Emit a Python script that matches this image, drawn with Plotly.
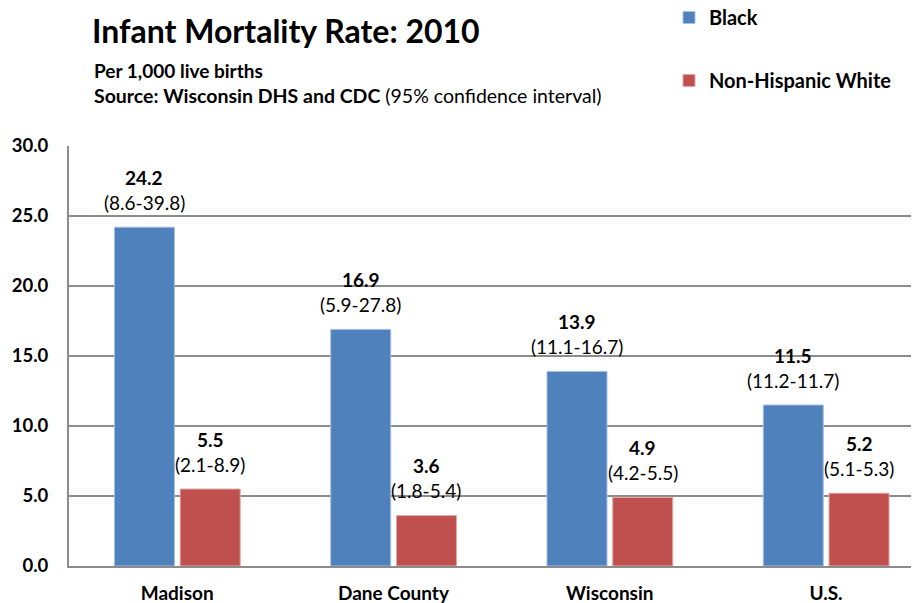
import plotly.graph_objects as go

categories = ["Madison", "Dane County", "Wisconsin", "U.S."]
black_values = [24.2, 16.9, 13.9, 11.5]
white_values = [5.5, 3.6, 4.9, 5.2]
black_ci = ["(8.6-39.8)", "(5.9-27.8)", "(11.1-16.7)", "(11.2-11.7)"]
white_ci = ["(2.1-8.9)", "(1.8-5.4)", "(4.2-5.5)", "(5.1-5.3)"]
y_ticks = [0, 5, 10, 15, 20, 25, 30]

FONT = "Lato"
BLUE = "#4F81BD"
RED = "#C0504D"
GRID = "#8C8C8C"

# page body margin offset (8px) compensation
OFF = 8
W, H = 919 - OFF, 603 - OFF

xs = list(range(len(categories)))
bw = 0.2775
off_b = -0.29
off_w = 0.014

fig = go.Figure()
fig.add_trace(go.Bar(
    x=xs, y=black_values, name="Black", width=bw, offset=off_b,
    marker=dict(color=BLUE, line=dict(color="#A7C0DE", width=1)),
    legendgroup="b",
))
fig.add_trace(go.Bar(
    x=xs, y=white_values, name="Non-Hispanic White", width=bw, offset=off_w,
    marker=dict(color=RED, line=dict(color="#E0A9A7", width=1)),
    legendgroup="w",
))

L, R = 69 - OFF, 0
T = 146 - OFF
B = H - (566 - OFF)
ph = H - T - B
pw = W - L - R


def px2paper(X, Y):
    """window pixel -> paper coords"""
    fx, fy = X - OFF, Y - OFF
    return (fx - L) / pw, (H - B - fy) / ph


annotations = []
for i in xs:
    for vals, cis, off in ((black_values, black_ci, off_b), (white_values, white_ci, off_w)):
        xc = i + off + bw / 2
        annotations.append(dict(x=xc, y=vals[i], xref="x", yref="y", text=f"<b>{vals[i]:.1f}</b>",
                                showarrow=False, yshift=50, yanchor="middle",
                                font=dict(family=FONT, size=19, color="black")))
        annotations.append(dict(x=xc, y=vals[i], xref="x", yref="y", text=cis[i],
                                showarrow=False, yshift=25, yanchor="middle",
                                font=dict(family=FONT, size=19, color="black")))

ax, ay = px2paper(92, 71)
annotations.append(dict(x=ax, y=ay, xref="paper", yref="paper", xanchor="left",
                        yanchor="middle", showarrow=False, text="<b>Per 1,000 live births</b>",
                        font=dict(family=FONT, size=19, color="black")))
ax, ay = px2paper(92, 95)
annotations.append(dict(x=ax, y=ay, xref="paper", yref="paper", xanchor="left",
                        yanchor="middle", showarrow=False,
                        text="<b>Source: Wisconsin DHS and CDC</b> (95% confidence interval)",
                        font=dict(family=FONT, size=19.5, color="black")))

lx, ly = px2paper(669, -2)

fig.update_layout(
    width=W, height=H,
    margin=dict(l=L, r=R, t=T, b=B, autoexpand=False),
    paper_bgcolor="white", plot_bgcolor="white",
    title=dict(text="<b>Infant Mortality Rate: 2010</b>", x=(92 - OFF) / W, xanchor="left",
               y=1 - (32 - OFF) / H, yanchor="middle", xref="container", yref="container",
               font=dict(family=FONT, size=32, color="black")),
    font=dict(family=FONT, color="black"),
    showlegend=True,
    legend=dict(x=lx, y=ly, xanchor="left", yanchor="top",
                font=dict(family=FONT, size=20, color="black", weight="bold"),
                tracegroupgap=34, bgcolor="rgba(0,0,0,0)", traceorder="grouped"),
    xaxis=dict(range=[-0.5, 3.43], tickvals=xs, ticktext=[f"<b>{c}</b>" for c in categories],
               showgrid=False, zeroline=False, showline=True, linecolor=GRID, linewidth=2,
               ticks="", tickfont=dict(family=FONT, size=19, color="black"),
               ticklabelstandoff=9),
    yaxis=dict(range=[0, 30], tickvals=y_ticks, ticktext=[f"<b>{v:.1f}</b>" for v in y_ticks],
               showgrid=True, gridcolor=GRID, gridwidth=1.5, zeroline=False,
               showline=True, linecolor=GRID, linewidth=2, ticks="",
               tickfont=dict(family=FONT, size=18.5, color="black"), ticklabelstandoff=15),
    annotations=annotations,
)

fig.write_html("out.html")
